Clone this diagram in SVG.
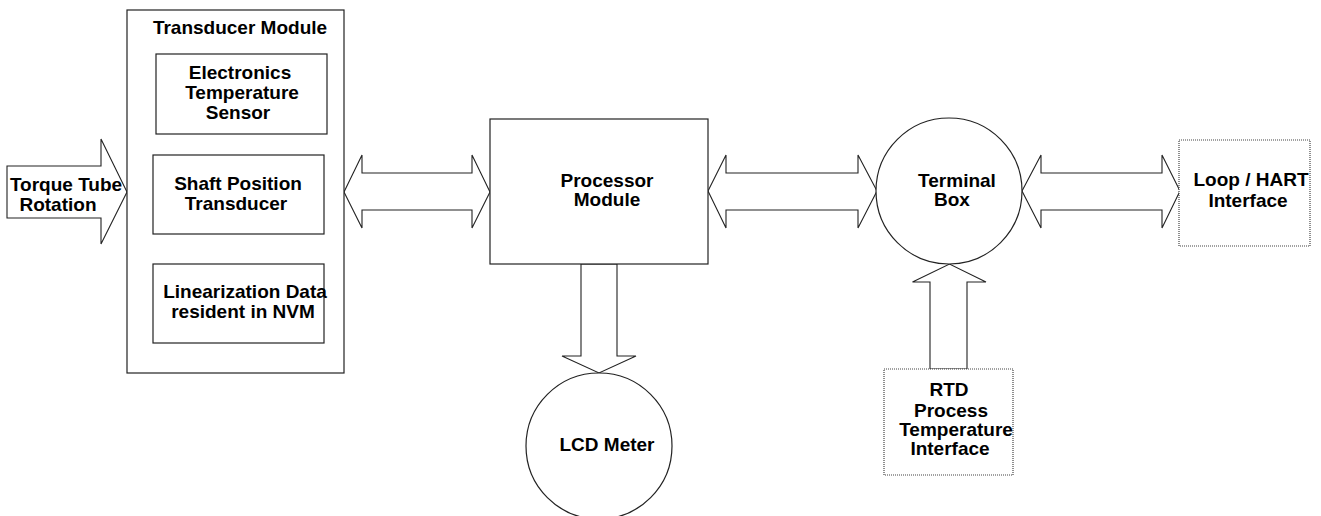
<svg xmlns="http://www.w3.org/2000/svg" width="1321" height="516" viewBox="0 0 1321 516">
<style>
  .box { fill: #fff; stroke: #222; stroke-width: 1.2; }
  .dot { fill: #fff; stroke: #444; stroke-width: 1.2; stroke-dasharray: 1 1; }
  .arrow { fill: #fff; stroke: #222; stroke-width: 1.1; stroke-linejoin: miter; }
  text { font-family: "Liberation Sans", Arial, sans-serif; font-weight: bold; font-size: 19px; fill: #000; text-anchor: middle; }
</style>
<rect x="0" y="0" width="1321" height="516" fill="#fff"/>
<g id="connectors">
  <polygon class="arrow" points="7,166 101,166 101,139 127,192 101,244 101,218 7,218"/>
  <polygon class="arrow" points="344,192 362,155 362,173 472,173 472,155 490,192 472,228 472,210 362,210 362,228"/>
  <polygon class="arrow" points="708,191 726,155 726,173 858,173 858,155 877,191 858,228 858,210 726,210 726,228"/>
  <polygon class="arrow" points="1022,191 1041,155 1041,173 1162,173 1162,155 1180,191 1162,228 1162,210 1041,210 1041,228"/>
  <polygon class="arrow" points="581,264 617,264 617,356 636,356 599,373 562,356 581,356"/>
  <polygon class="arrow" points="930,369 930,282 912.5,282 949.5,264 986,282 967,282 967,369"/>
</g>
<g id="torque-label">
  <text x="66" y="191">Torque Tube</text>
  <text x="58" y="211">Rotation</text>
</g>
<g id="transducer-module">
  <rect class="box" x="127" y="10" width="217" height="363"/>
  <text x="240" y="34">Transducer Module</text>
</g>
<g id="electronics-temperature-sensor">
  <rect class="box" x="156" y="54" width="171" height="80"/>
  <text x="240" y="79">Electronics</text>
  <text x="242" y="99">Temperature</text>
  <text x="238" y="119">Sensor</text>
</g>
<g id="shaft-position-transducer">
  <rect class="box" x="153" y="155" width="171" height="79"/>
  <text x="238" y="190">Shaft Position</text>
  <text x="236" y="209.5">Transducer</text>
</g>
<g id="linearization-data">
  <rect class="box" x="153" y="264" width="171" height="79"/>
  <text x="245" y="298">Linearization Data</text>
  <text x="243" y="317.5">resident in NVM</text>
</g>
<g id="processor-module">
  <rect class="box" x="490" y="119" width="218" height="145"/>
  <text x="607" y="187">Processor</text>
  <text x="607" y="206">Module</text>
</g>
<g id="terminal-box">
  <circle class="box" cx="949" cy="191" r="73"/>
  <text x="957" y="187">Terminal</text>
  <text x="952" y="206">Box</text>
</g>
<g id="loop-hart-interface">
  <rect class="dot" x="1179" y="140" width="131" height="106"/>
  <text x="1251" y="186">Loop / HART</text>
  <text x="1248" y="207">Interface</text>
</g>
<g id="lcd-meter">
  <circle class="box" cx="599" cy="446" r="73"/>
  <text x="607" y="451">LCD Meter</text>
</g>
<g id="rtd-interface">
  <rect class="dot" x="884" y="369" width="129" height="106"/>
  <text x="949" y="396">RTD</text>
  <text x="951" y="416.5">Process</text>
  <text x="956" y="435.5">Temperature</text>
  <text x="950" y="455">Interface</text>
</g>
</svg>
